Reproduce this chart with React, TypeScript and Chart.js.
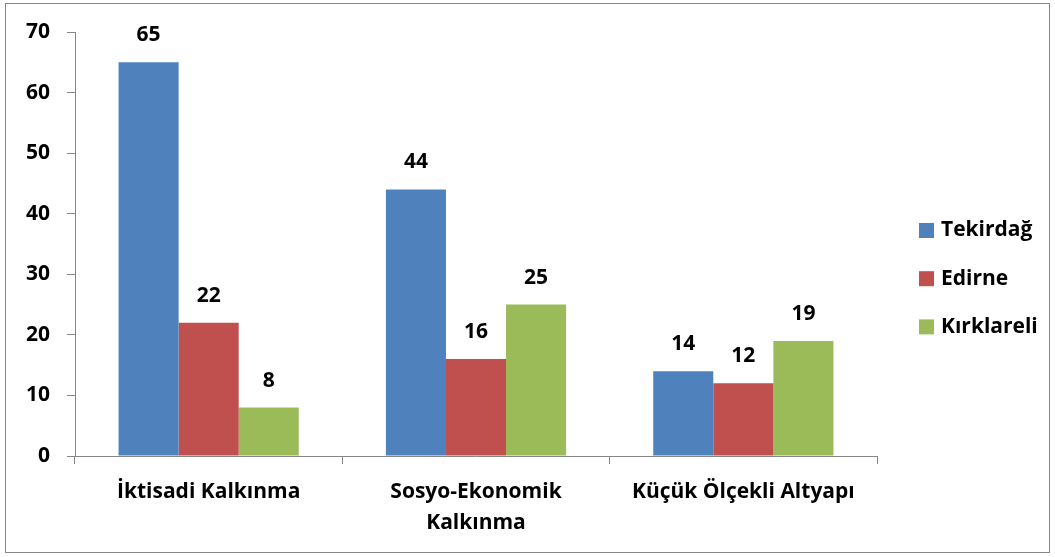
import React, { useEffect, useRef } from "react";
import { Chart, registerables } from "chart.js";

Chart.register(...registerables);

const categories: (string | string[])[] = [
  "İktisadi Kalkınma",
  ["Sosyo-Ekonomik", "Kalkınma"],
  "Küçük Ölçekli Altyapı",
];
const seriesNames = ["Tekirdağ", "Edirne", "Kırklareli"];
const tekirdag = [65, 44, 14];
const edirne = [22, 16, 12];
const kirklareli = [8, 25, 19];
const seriesColors = ["#4F81BD", "#C0504D", "#9BBB59"];
const yTicks = [0, 10, 20, 30, 40, 50, 60, 70];

const FONT = "'Open Sans', sans-serif";

export default function App() {
  const ref = useRef<HTMLCanvasElement | null>(null);

  useEffect(() => {
    document.body.style.margin = "0";
    const canvas = ref.current;
    if (!canvas) return;

    const frame = {
      id: "frame",
      beforeDraw(chart: any) {
        const ctx = chart.ctx;
        ctx.save();
        ctx.fillStyle = "#ffffff";
        ctx.fillRect(0, 0, chart.width, chart.height);
        ctx.strokeStyle = "#878787";
        ctx.lineWidth = 1;
        ctx.strokeRect(5.5, 3.5, 1044, 549);
        ctx.restore();
      },
    };

    const valueLabels = {
      id: "valueLabels",
      afterDatasetsDraw(chart: any) {
        const ctx = chart.ctx;
        ctx.save();
        ctx.font = `bold 21px ${FONT}`;
        ctx.fillStyle = "#000000";
        ctx.textAlign = "center";
        ctx.textBaseline = "middle";
        chart.data.datasets.forEach((ds: any, i: number) => {
          const meta = chart.getDatasetMeta(i);
          meta.data.forEach((bar: any, j: number) => {
            ctx.fillText(String(ds.data[j]), bar.x, bar.y - 27);
          });
        });
        ctx.restore();
      },
    };

    const customLegend = {
      id: "customLegend",
      afterDraw(chart: any) {
        const ctx = chart.ctx;
        ctx.save();
        ctx.font = `bold 21px ${FONT}`;
        ctx.textBaseline = "middle";
        ctx.textAlign = "left";
        chart.data.datasets.forEach((ds: any, i: number) => {
          const y = 230.5 + i * 48.2;
          ctx.fillStyle = ds.backgroundColor;
          ctx.fillRect(919, y - 7.5, 15, 15);
          ctx.fillStyle = "#000000";
          ctx.fillText(ds.label, 941, y);
        });
        ctx.restore();
      },
    };

    const chart = new Chart(canvas, {
      type: "bar",
      data: {
        labels: categories,
        datasets: seriesNames.map((name, i) => ({
          label: name,
          data: [tekirdag, edirne, kirklareli][i],
          backgroundColor: seriesColors[i],
          borderWidth: 0,
          barPercentage: 1,
          categoryPercentage: 0.674,
        })),
      },
      options: {
        responsive: false,
        animation: false,
        layout: { padding: { top: 32, right: 178, left: 0, bottom: 0 } },
        plugins: {
          legend: { display: false },
          tooltip: { enabled: false },
        },
        scales: {
          x: {
            grid: {
              offset: true,
              drawOnChartArea: false,
              drawTicks: true,
              tickLength: 8,
              color: "#878787",
            },
            border: { color: "#878787", width: 1 },
            ticks: {
              color: "#000000",
              font: { family: FONT, size: 21, weight: "bold", lineHeight: 1.48 },
              padding: 12,
              maxRotation: 0,
              autoSkip: false,
            },
            afterFit(scale: any) {
              scale.height = 101;
            },
          },
          y: {
            min: 0,
            max: 70,
            afterBuildTicks(scale: any) {
              scale.ticks = yTicks.map((v) => ({ value: v }));
            },
            grid: {
              drawOnChartArea: false,
              drawTicks: true,
              tickLength: 8,
              color: "#878787",
            },
            border: { color: "#878787", width: 1 },
            ticks: {
              color: "#000000",
              font: { family: FONT, size: 21, weight: "bold" },
              padding: 17,
            },
            afterFit(scale: any) {
              scale.width = 75;
            },
          },
        },
      },
      plugins: [frame, valueLabels, customLegend],
    });

    return () => chart.destroy();
  }, []);

  return <canvas ref={ref} width={1055} height={557} style={{ display: "block" }} />;
}
